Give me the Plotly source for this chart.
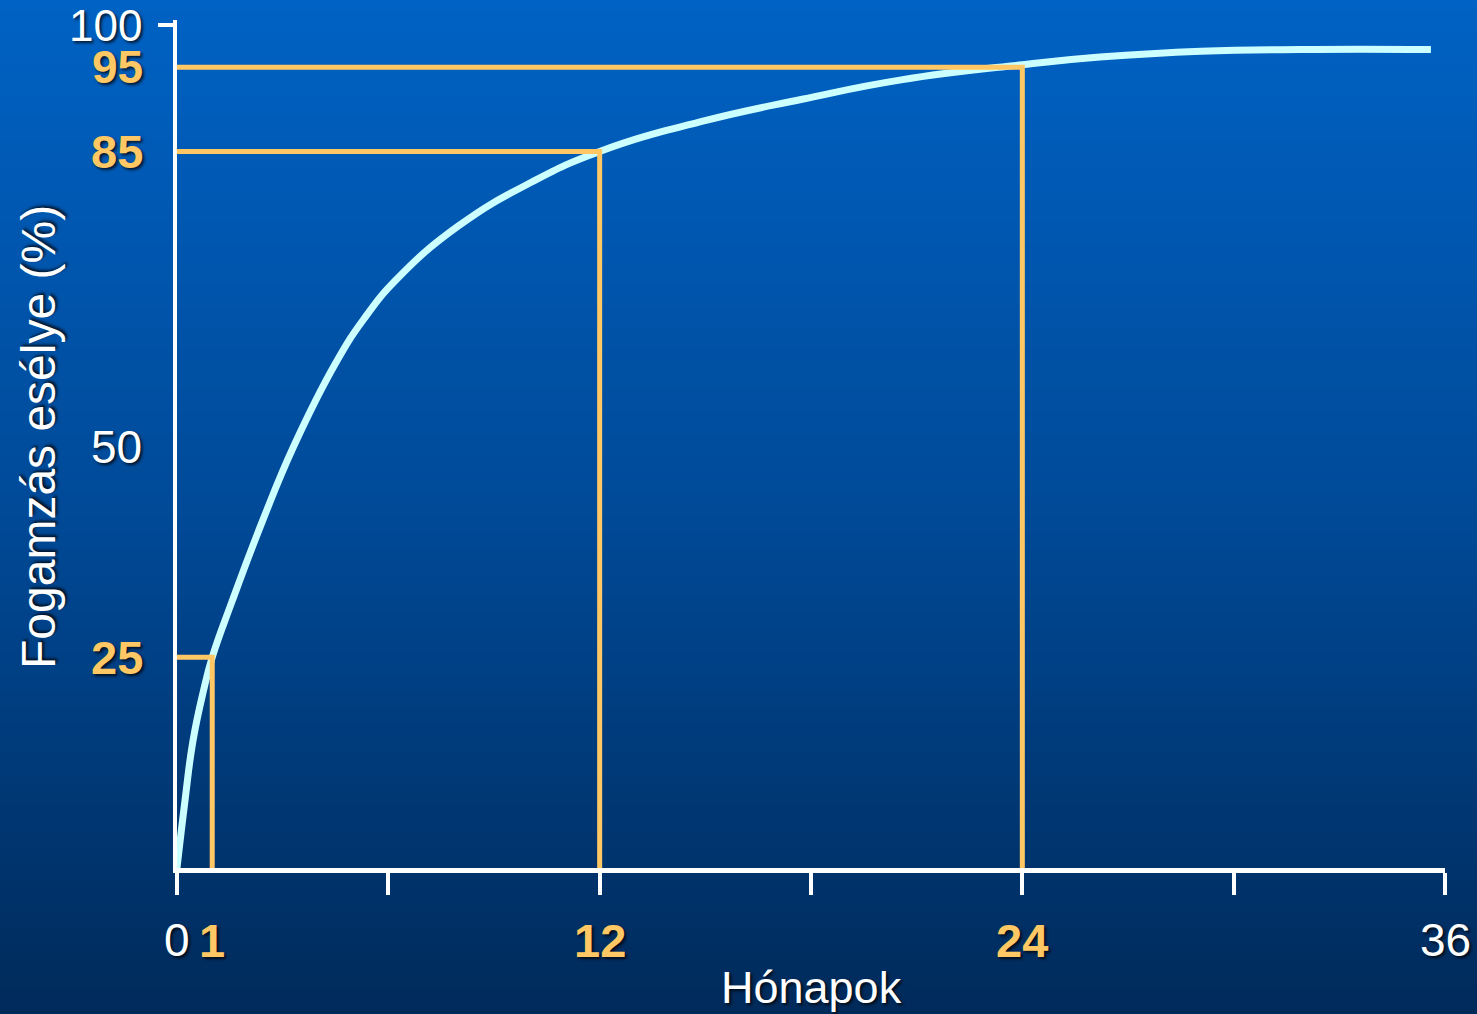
import plotly.graph_objects as go

# ---- data ----
months = [0, 0.23, 0.45, 0.75, 1, 1.56, 2.44, 3.32, 4.49, 5.3, 6.25, 8.0, 10.06, 12, 14.93, 17.75, 20.56, 24, 26.2, 29.07, 31.9, 35.6]
chance = [0, 8.1, 15, 21, 25, 31.6, 41.3, 50.1, 59.8, 65.1, 69.9, 76.2, 81.35, 85, 88.6, 91.2, 93.5, 95.3, 96.2, 96.9, 97.1, 97.1]

marker_months = [1, 12, 24]
marker_values = [25, 85, 95]

x_ticks = [0, 6, 12, 18, 24, 30, 36]
x_labels_white = [0, 36]
y_labels_white = [100, 50]

x_title = "Hónapok"
y_title = "Fogamzás esélye (%)"

W, H = 1477, 1014
FONT = "Liberation Sans, Arial, sans-serif"
ORANGE = "#FFC864"
CURVE = "#CCFFFF"
SHADOW = "2px 2px 3px rgba(0,0,0,0.75)"

fig = go.Figure()

# background gradient (full-paper subplot)
fig.add_trace(go.Heatmap(
    x=[0, 1], y=[0, 1], z=[[0, 0], [1, 1]], zsmooth="best",
    colorscale=[[0, "#002A5A"], [0.5, "#004A98"], [1, "#0062C4"]],
    showscale=False, hoverinfo="skip", xaxis="x", yaxis="y"))

# curve
fig.add_trace(go.Scatter(
    x=months, y=chance, mode="lines", line=dict(color=CURVE, width=7, shape="spline", smoothing=1.3),
    xaxis="x2", yaxis="y2", cliponaxis=False, hoverinfo="skip", showlegend=False))

# orange guide lines
for m, v in zip(marker_months, marker_values):
    fig.add_trace(go.Scatter(
        x=[0, m, m], y=[v, v, 0], mode="lines", line=dict(color=ORANGE, width=5),
        xaxis="x2", yaxis="y2", cliponaxis=False, hoverinfo="skip", showlegend=False))

shapes = []
for m, v in zip(marker_months, marker_values):
    shapes.append(dict(type="line", xref="x2", yref="y2", xsizemode="pixel", xanchor=0,
                       x0=-15, x1=0, y0=v, y1=v, line=dict(color=ORANGE, width=5)))
    shapes.append(dict(type="line", xref="x2", yref="y2", ysizemode="pixel", yanchor=0,
                       y0=-25, y1=0, x0=m, x1=m, line=dict(color=ORANGE, width=5)))
# thin top/right frame
shapes.append(dict(type="line", xref="x2 domain", yref="y2 domain", x0=0, x1=1, y0=1, y1=1,
                   line=dict(color="#B8CCE8", width=2), layer="below"))
shapes.append(dict(type="line", xref="x2 domain", yref="y2 domain", x0=1, x1=1, y0=0, y1=1,
                   line=dict(color="#B8CCE8", width=2), layer="below"))

annotations = []
def lab(text, x, y, color, bold, size, **kw):
    t = f"<b>{text}</b>" if bold else text
    annotations.append(dict(text=t, x=x, y=y, xref="x2", yref="y2", showarrow=False,
                            font=dict(family=FONT, size=size, color=color, shadow=SHADOW), **kw))

for v in y_labels_white:
    lab(str(v), 0, v, "white", False, 44 if v == 100 else 46,
        xanchor="right", yanchor="middle", xshift=-33)
for v in marker_values:
    lab(str(v), 0, v, ORANGE, True, 46 if v == 95 else 47,
        xanchor="right", yanchor="middle", xshift=-32)
for m in x_labels_white:
    lab(str(m), m, 0, "white", False, 46, xanchor="center", yanchor="middle", yshift=-72)
for m in marker_months:
    lab(str(m), m, 0, ORANGE, True, 47, xanchor="center", yanchor="middle", yshift=-72)

annotations.append(dict(text=x_title, x=18, y=0, xref="x2", yref="y2", showarrow=False,
                        xanchor="center", yanchor="middle", yshift=-119,
                        font=dict(family=FONT, size=45, color="white", shadow=SHADOW)))
annotations.append(dict(text=y_title, x=38 / W, y=1 - 437 / H, xref="paper", yref="paper",
                        showarrow=False, textangle=-90, xanchor="center", yanchor="middle",
                        font=dict(family=FONT, size=48, color="white", shadow=SHADOW)))

fig.update_layout(
    width=W, height=H, margin=dict(l=0, r=0, t=0, b=0),
    paper_bgcolor="#003A78", plot_bgcolor="rgba(0,0,0,0)", showlegend=False,
    xaxis=dict(domain=[0, 1], range=[0, 1], visible=False, fixedrange=True),
    yaxis=dict(domain=[0, 1], range=[0, 1], visible=False, fixedrange=True),
    xaxis2=dict(domain=[177 / W, 1445 / W], range=[0, 36], anchor="y2",
                showline=True, linecolor="white", linewidth=5, ticks="outside",
                ticklen=22, tickwidth=4, tickcolor="white", tickvals=x_ticks,
                showticklabels=False, showgrid=False, zeroline=False),
    yaxis2=dict(domain=[1 - 868 / H, 1 - 20 / H], range=[0, 100.6], anchor="x2",
                showline=True, linecolor="white", linewidth=4, ticks="outside",
                ticklen=15, tickwidth=4, tickcolor="white", tickvals=[100],
                showticklabels=False, showgrid=False, zeroline=False),
    shapes=shapes, annotations=annotations,
)

fig.write_html("out.html")
